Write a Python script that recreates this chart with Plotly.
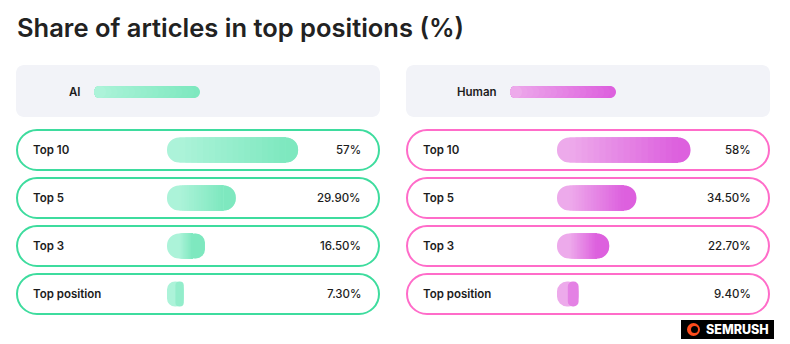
import plotly.graph_objects as go

W, H = 790, 344

categories = ["Top 10", "Top 5", "Top 3", "Top position"]
ai_values = [57, 29.9, 16.5, 7.3]
human_values = [58, 34.5, 22.7, 9.4]
ai_labels = ["57%", "29.90%", "16.50%", "7.30%"]
human_labels = ["58%", "34.50%", "22.70%", "9.40%"]
series_names = ["AI", "Human"]
title = "Share of articles in top positions (%)"

AI_LIGHT, AI_DARK = (172, 243, 217), (126, 232, 191)
HU_LIGHT, HU_DARK = (237, 170, 235), (221, 96, 222)
AI_LINE = "#3edc9e"
HU_LINE = "#ff6cc9"
HEADER_BG = "#f2f3f8"
TEXT = "#1c1c1c"
FONT = "Inter"
STEPS = 18
X_RANGE = 100
X_PIXELS = 230
BAR_PX = 25
R_DATA = (BAR_PX / 2) * X_RANGE / X_PIXELS  # corner radius expressed in axis units


def px(x):
    return x / W


def py(y):
    return 1 - y / H


def mix(c1, c2, t):
    return "rgb(%d,%d,%d)" % tuple(round(a + (b - a) * t) for a, b in zip(c1, c2))


def pill_path(x0, y0, x1, y1, r):
    k = 0.5523 * r
    pts = [
        ("M", [(x0 + r, y0)]),
        ("L", [(x1 - r, y0)]),
        ("C", [(x1 - r + k, y0), (x1, y0 + r - k), (x1, y0 + r)]),
        ("L", [(x1, y1 - r)]),
        ("C", [(x1, y1 - r + k), (x1 - r + k, y1), (x1 - r, y1)]),
        ("L", [(x0 + r, y1)]),
        ("C", [(x0 + r - k, y1), (x0, y1 - r + k), (x0, y1 - r)]),
        ("L", [(x0, y0 + r)]),
        ("C", [(x0, y0 + r - k), (x0 + r - k, y0), (x0 + r, y0)]),
    ]
    s = ""
    for cmd, ps in pts:
        s += cmd + " " + " ".join(f"{px(a):.5f},{py(b):.5f}" for a, b in ps) + " "
    return s + "Z"


fig = go.Figure()

panels = [
    dict(vals=ai_values, labels=ai_labels, light=AI_LIGHT, dark=AI_DARK, line=AI_LINE, x0=16, xa="x", ya="y"),
    dict(vals=human_values, labels=human_labels, light=HU_LIGHT, dark=HU_DARK, line=HU_LINE, x0=406, xa="x2", ya="y2"),
]


def add_bar(p, x, base, color, radius):
    fig.add_trace(go.Bar(
        x=x, base=base, y=categories, orientation="h",
        marker=dict(color=color, cornerradius=radius, line=dict(width=0)),
        xaxis=p["xa"], yaxis=p["ya"], hoverinfo="skip", showlegend=False,
    ))


for p in panels:
    vals = p["vals"]
    light, dark = p["light"], p["dark"]
    # full pill in the light colour
    add_bar(p, vals, [0] * len(vals), mix(light, light, 0), "50%")
    # right half pill in the dark colour (softer for short bars without a middle section)
    cap_cols = [mix(light, dark, 1.0 if v > 2 * R_DATA else 0.55) for v in vals]
    add_bar(p, [v / 2 for v in vals], [v / 2 for v in vals], cap_cols, "50%")
    # square gradient steps across the straight middle part
    for k in range(STEPS):
        bases, lens = [], []
        for v in vals:
            inner = max(v - 2 * R_DATA, 0)
            b = R_DATA + inner * k / STEPS
            bases.append(b)
            lens.append(max((v - R_DATA) - b, 0))
        add_bar(p, lens, bases, mix(light, dark, (k + 0.5) / STEPS), 0)

shapes = []
annotations = []

row_centers = [150, 198, 246, 294]
for i, p in enumerate(panels):
    x0 = p["x0"]
    x1 = x0 + 364
    shapes.append(dict(type="path", path=pill_path(x0, 65, x1, 117, 8), xref="paper", yref="paper",
                       fillcolor=HEADER_BG, line=dict(width=0), layer="below"))
    sw0 = x0 + (78 if i == 0 else 104)
    for k in range(STEPS):
        f = (STEPS - k) / STEPS
        sw_len = max(106 * f, 12)
        shapes.append(dict(type="path", path=pill_path(sw0, 86, sw0 + sw_len, 98, 6), xref="paper", yref="paper",
                           fillcolor=mix(p["dark"], p["light"], k / (STEPS - 1)), line=dict(width=0), layer="below"))
    annotations.append(dict(text=series_names[i], x=px(sw0 - 11), y=py(92), xref="paper", yref="paper",
                            xanchor="right", yanchor="middle", showarrow=False,
                            font=dict(family=FONT, size=11.5, color=TEXT, weight=600)))
    for j, cy in enumerate(row_centers):
        shapes.append(dict(type="path", path=pill_path(x0 + 1, cy - 20, x1 - 1, cy + 20, 20),
                           xref="paper", yref="paper", fillcolor="white",
                           line=dict(width=2, color=p["line"]), layer="below"))
        annotations.append(dict(text=categories[j], x=px(x0 + 15), y=py(cy), xref="paper", yref="paper",
                                xanchor="left", yanchor="middle", showarrow=False,
                                font=dict(family=FONT, size=11.5, color=TEXT, weight=600)))
        annotations.append(dict(text=p["labels"][j], x=px(x0 + 347), y=py(cy), xref="paper", yref="paper",
                                xanchor="right", yanchor="middle", showarrow=False,
                                font=dict(family=FONT, size=11.5, color=TEXT, weight=500)))

annotations.append(dict(text=title, x=px(15), y=py(27), xref="paper", yref="paper",
                        xanchor="left", yanchor="middle", showarrow=False,
                        font=dict(family=FONT, size=25.5, color="#222222", weight=600)))

shapes.append(dict(type="rect", x0=px(681), x1=px(774), y0=py(339), y1=py(320), xref="paper", yref="paper",
                   fillcolor="#000000", line=dict(width=0)))
shapes.append(dict(type="circle", x0=px(687), x1=px(700), y0=py(336), y1=py(323), xref="paper", yref="paper",
                   fillcolor="#ff4c1c", line=dict(width=0)))
shapes.append(dict(type="circle", x0=px(691), x1=px(698), y0=py(333), y1=py(326), xref="paper", yref="paper",
                   fillcolor="#000000", line=dict(width=0)))
annotations.append(dict(text="SEMRUSH", x=px(704), y=py(329.5), xref="paper", yref="paper",
                        xanchor="left", yanchor="middle", showarrow=False,
                        font=dict(family=FONT, size=12.5, color="white", weight=800)))

ydom = [py(318), py(126)]
axis_common = dict(showgrid=False, zeroline=False, showticklabels=False, showline=False, fixedrange=True)
fig.update_layout(
    width=W, height=H,
    margin=dict(l=0, r=0, t=0, b=0),
    paper_bgcolor="white", plot_bgcolor="rgba(0,0,0,0)",
    barmode="overlay", bargap=0.48,
    xaxis=dict(domain=[px(167), px(167 + X_PIXELS)], range=[0, X_RANGE], **axis_common),
    xaxis2=dict(domain=[px(557), px(557 + X_PIXELS)], range=[0, X_RANGE], **axis_common),
    yaxis=dict(domain=ydom, categoryorder="array", categoryarray=categories[::-1], **axis_common),
    yaxis2=dict(domain=ydom, categoryorder="array", categoryarray=categories[::-1], **axis_common),
    shapes=shapes, annotations=annotations,
    showlegend=False,
)

fig.write_html("out.html")
